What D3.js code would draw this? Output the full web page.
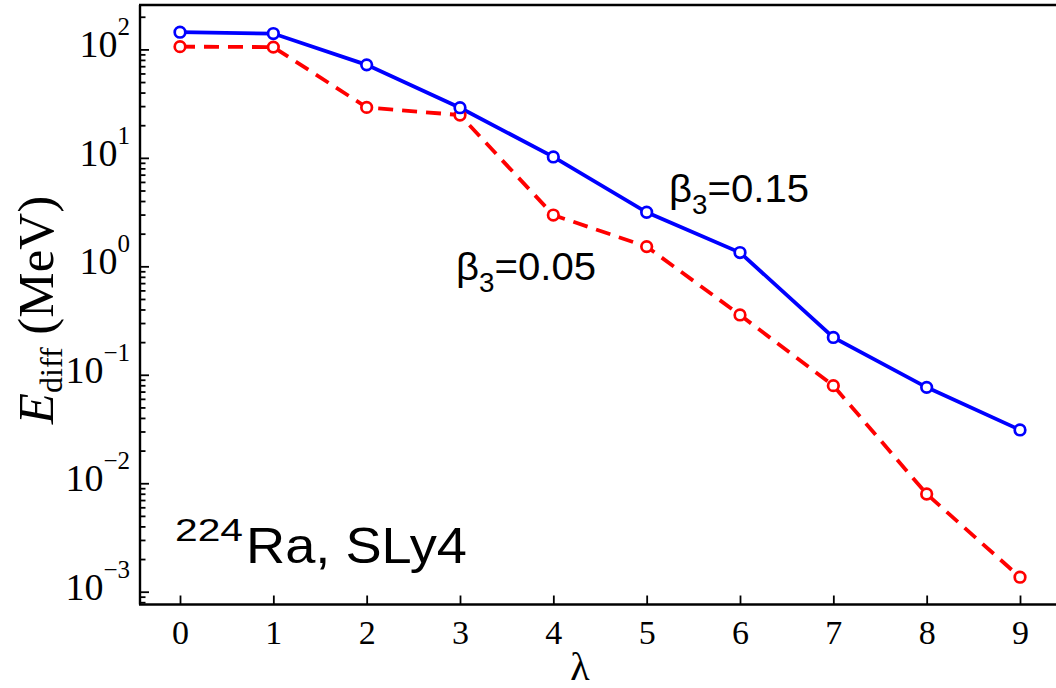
<!DOCTYPE html>
<html><head><meta charset="utf-8">
<script src="https://cdn.jsdelivr.net/npm/d3@7"></script>
<style>body{margin:0;background:#fff}svg{display:block}</style>
</head><body><svg id="c" width="1056" height="688"></svg>
<script>
// ---- data ----
const lambdas = [0, 1, 2, 3, 4, 5, 6, 7, 8, 9];
const beta015 = [144, 140, 72, 29, 10.2, 3.15, 1.34, 0.221, 0.0766, 0.031];
const beta005 = [106, 105, 29.2, 24.8, 2.97, 1.52, 0.356, 0.0794, 0.00796, 0.00136];
const xTicks = [0, 1, 2, 3, 4, 5, 6, 7, 8, 9];
const yDecades = [1e-3, 1e-2, 1e-1, 1e0, 1e1, 1e2];
const yExponents = ["\u22123", "\u22122", "\u22121", "0", "1", "2"];

// ---- layout ----
const svg = d3.select("#c");
const L = 140, R = 1062, T = 5, B = 604.5;
const x = d3.scaleLinear().domain([0, 9]).range([180, 1020]);
const yRef = d3.scaleLog().domain([1e-3, 1e2]).range([591.7, 49.4]);
const y = d3.scaleLog().domain([yRef.invert(B), yRef.invert(T)]).range([B, T]);

const minor = [];
for (let e = -4; e <= 2; e++) for (let k = 2; k <= 9; k++) {
  const v = k * Math.pow(10, e);
  if (v > y.domain()[0] && v < y.domain()[1]) minor.push(v);
}

const serif = "'Liberation Serif','Times New Roman',Times,serif";
const sans = "'Liberation Sans',Arial,Helvetica,sans-serif";

// y axis ticks
const gy = svg.append("g").attr("transform", `translate(${L},0)`);
gy.call(d3.axisLeft(y).tickValues(yDecades).tickSize(-9).tickFormat(""));
gy.select(".domain").remove();
const gy2 = svg.append("g").attr("transform", `translate(${L},0)`);
gy2.call(d3.axisLeft(y).tickValues(minor).tickSize(-5.5).tickFormat(""));
gy2.select(".domain").remove();
svg.selectAll("g .tick line").attr("stroke", "#000").attr("stroke-width", 1.8);

// y tick labels
yDecades.forEach((v, i) => {
  const t = svg.append("text")
    .attr("x", 130).attr("y", y(v) + 8)
    .attr("text-anchor", "end")
    .attr("font-family", serif).attr("font-size", 38).attr("fill", "#000");
  t.append("tspan").text("10");
  t.append("tspan").attr("font-size", 25).attr("dy", -22).text(yExponents[i]);
});

// x axis
const gx = svg.append("g").attr("transform", `translate(0,${B})`);
gx.call(d3.axisBottom(x).tickValues(xTicks).tickSize(-9).tickPadding(15).tickFormat(d3.format("d")));
gx.select(".domain").remove();
gx.selectAll(".tick line").attr("stroke", "#000").attr("stroke-width", 1.8);
gx.selectAll(".tick text").attr("font-family", serif).attr("font-size", 34).attr("fill", "#000");

// frame
const frame = svg.append("g").attr("stroke", "#000").attr("stroke-width", 2.4).attr("fill", "none");
frame.append("line").attr("x1", L).attr("x2", L).attr("y1", T).attr("y2", B);
frame.append("line").attr("x1", L - 1).attr("x2", R).attr("y1", T).attr("y2", T);
frame.append("line").attr("x1", L - 1).attr("x2", R).attr("y1", B).attr("y2", B);

// series
const line = d3.line().x((d, i) => x(lambdas[i])).y(d => y(d));
const series = [
  { values: beta005, color: "#ff0000", dash: "15,9" },
  { values: beta015, color: "#0000ff", dash: null }
];
series.forEach(s => {
  svg.append("path").datum(s.values).attr("d", line)
    .attr("fill", "none").attr("stroke", s.color).attr("stroke-width", 3.8)
    .attr("stroke-dasharray", s.dash);
});
series.forEach(s => {
  svg.append("g").selectAll("circle").data(s.values).join("circle")
    .attr("cx", (d, i) => x(lambdas[i])).attr("cy", d => y(d)).attr("r", 5.3)
    .attr("fill", "#fff").attr("stroke", s.color).attr("stroke-width", 2.7);
});

// annotations
function betaLabel(px, py, val) {
  const t = svg.append("text").attr("x", px).attr("y", py)
    .attr("font-family", sans).attr("font-size", 39).attr("fill", "#000")
    .attr("textLength", 140).attr("lengthAdjust", "spacingAndGlyphs");
  t.append("tspan").text("\u03b2");
  t.append("tspan").attr("font-size", 27).attr("dy", 12).text("3");
  t.append("tspan").attr("dy", -12).text("=" + val);
}
betaLabel(669, 201.5, "0.15");
betaLabel(456, 280, "0.05");

svg.append("text").attr("x", 175).attr("y", 541)
  .attr("font-family", sans).attr("font-size", 31).attr("fill", "#000")
  .attr("textLength", 68).attr("lengthAdjust", "spacingAndGlyphs").text("224");
svg.append("text").attr("x", 246).attr("y", 563)
  .attr("font-family", sans).attr("font-size", 50).attr("fill", "#000")
  .attr("textLength", 221).attr("lengthAdjust", "spacingAndGlyphs").text("Ra, SLy4");

// axis titles
svg.append("text").attr("x", 580).attr("y", 680).attr("text-anchor", "middle")
  .attr("font-family", serif).attr("font-size", 40).attr("fill", "#000").text("\u03bb");

const yl = svg.append("text")
  .attr("transform", "translate(53,310) rotate(-90)")
  .attr("text-anchor", "middle")
  .attr("font-family", serif).attr("font-size", 51).attr("fill", "#000");
yl.append("tspan").attr("font-style", "italic").text("E");
yl.append("tspan").attr("font-size", 32).attr("dy", 9).text("diff");
yl.append("tspan").attr("dy", -9).text(" (MeV)");
</script>
</body></html>
